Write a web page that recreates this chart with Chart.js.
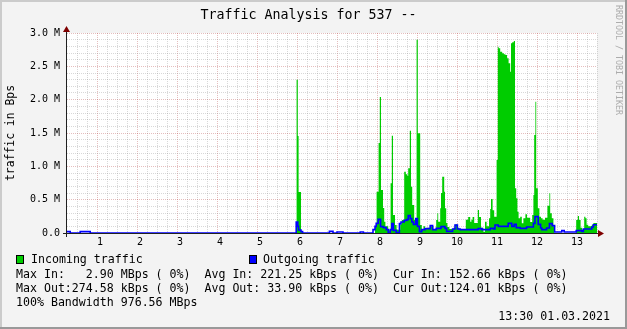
<!DOCTYPE html>
<html><head><meta charset="utf-8">
<script src="https://cdn.jsdelivr.net/npm/chart.js@4/dist/chart.umd.min.js"></script>
<style>html,body{margin:0;padding:0;background:#f3f3f3;overflow:hidden}canvas{display:block}</style>
</head><body>
<canvas id="c" width="627" height="329"></canvas>
<script>
// hours of day (step start) and traffic in MBps
const inTimes = [0.25,5.99,6.02,6.04,6.10,6.14,7.95,7.99,8.04,8.07,8.10,8.15,8.18,8.21,8.28,8.34,8.37,8.40,8.45,8.49,8.58,8.62,8.68,8.72,8.76,8.78,8.82,8.85,8.88,8.93,8.99,9.02,9.08,9.12,9.16,9.20,9.28,9.33,9.41,9.48,9.51,9.53,9.58,9.60,9.63,9.68,9.70,9.73,9.76,9.81,9.91,9.96,10.01,10.06,10.22,10.28,10.33,10.36,10.39,10.43,10.52,10.55,10.60,10.66,10.70,10.74,10.80,10.83,10.85,10.89,10.93,10.99,11.02,11.04,11.08,11.13,11.17,11.21,11.25,11.29,11.33,11.35,11.38,11.42,11.45,11.48,11.51,11.54,11.58,11.62,11.66,11.71,11.75,11.83,11.88,11.91,11.93,11.96,11.98,12.02,12.06,12.10,12.14,12.20,12.26,12.31,12.33,12.37,12.41,12.43,12.98,13.02,13.05,13.09,13.13,13.18,13.21,13.24,13.28,13.37,13.41,13.50];
const inValues = [0,2.30,1.455,0.615,0.02,0,0.10,0.62,1.35,2.04,0.645,0.375,0.17,0.10,0.04,0.745,1.46,0.27,0.12,0.05,0.13,0.195,0.92,0.88,0.855,0.97,1.535,0.695,0.42,0.20,2.90,1.495,0.12,0.06,0.10,0.07,0.08,0.10,0.05,0.195,0.295,0.17,0.37,0.60,0.845,0.62,0.37,0.15,0.09,0.06,0.08,0.13,0.08,0.06,0.20,0.24,0.17,0.20,0.24,0.15,0.345,0.24,0.08,0.02,0.17,0.10,0.22,0.36,0.51,0.34,0.245,1.095,2.795,2.77,2.72,2.695,2.68,2.67,2.62,2.545,2.42,2.845,2.86,2.88,0.67,0.52,0.32,0.22,0.245,0.145,0.22,0.28,0.23,0.165,0.27,0.57,1.47,1.97,0.67,0.37,0.245,0.22,0.20,0.23,0.41,0.595,0.295,0.22,0.10,0,0.195,0.255,0.195,0.08,0.05,0.245,0.22,0.125,0.10,0.125,0.15,0.15];
const outTimes = [0.25,0.33,0.58,0.83,5.98,6.02,6.04,6.10,6.14,6.81,6.90,7.00,7.15,7.58,7.66,7.90,7.95,7.98,8.03,8.09,8.16,8.23,8.28,8.33,8.37,8.41,8.48,8.56,8.60,8.68,8.74,8.78,8.83,8.87,8.91,8.97,9.01,9.06,9.12,9.20,9.33,9.39,9.48,9.60,9.70,9.74,9.89,9.95,10.01,10.08,10.53,10.62,10.83,10.91,10.95,11.03,11.28,11.37,11.43,11.48,11.58,11.74,11.91,11.95,12.03,12.09,12.12,12.24,12.31,12.38,12.44,12.62,12.68,12.98,13.12,13.16,13.37,13.41,13.50];
const outValues = [0.02,0,0.02,0,0.165,0.10,0.045,0.02,0,0.025,0,0.015,0,0.015,0,0.05,0.10,0.145,0.205,0.095,0.08,0.05,0,0.05,0.14,0.04,0.005,0.14,0.165,0.19,0.20,0.26,0.215,0.165,0.13,0.215,0.10,0.02,0.05,0.065,0.11,0.05,0.07,0.095,0.07,0.025,0.06,0.12,0.06,0.05,0.065,0.05,0.07,0.06,0.12,0.10,0.145,0.10,0.13,0.08,0.07,0.09,0.145,0.245,0.13,0.075,0.05,0.075,0.14,0.11,0.015,0.035,0.015,0.035,0.025,0.06,0.09,0.124,0.124];
const xTickLabels = [' 1',' 2',' 3',' 4',' 5',' 6',' 7',' 8',' 9','10','11','12','13'];
const yTickLabels = ['0.0','0.5 M','1.0 M','1.5 M','2.0 M','2.5 M','3.0 M'];
const xMin = 0.25, xMax = 13.5, yMin = 0, yMax = 3.0;

const titleText = 'Traffic Analysis for 537 --';
const yTitle = 'traffic in Bps';
const legendIn = 'Incoming traffic';
const legendOut = 'Outgoing traffic';
const statRows = [
  'Max In:   2.90 MBps ( 0%)  Avg In: 221.25 kBps ( 0%)  Cur In: 152.66 kBps ( 0%)',
  'Max Out:274.58 kBps ( 0%)  Avg Out: 33.90 kBps ( 0%)  Cur Out:124.01 kBps ( 0%)',
  '100% Bandwidth 976.56 MBps'
];
const dateText = '13:30 01.03.2021';
const watermark = 'RRDTOOL / TOBI OETIKER';

const MONO = '"DejaVu Sans Mono", monospace';
const GREEN = '#00cc00', BLUE = '#0000ff';
const MAJ = 'rgba(170,40,40,0.30)', MIN = 'rgba(140,140,140,0.34)';

function pts(t, v){ const n = Math.min(t.length, v.length); const r = []; for (let i=0;i<n;i++) r.push({x:t[i], y:v[i]}); return r; }
function isInt(v){ return Math.abs(v - Math.round(v)) < 1e-6; }

const decor = {
  id: 'decor',
  beforeDraw(chart){
    const c = chart.ctx, a = chart.chartArea;
    c.save();
    c.fillStyle = '#f3f3f3'; c.fillRect(0,0,chart.width,chart.height);
    c.fillStyle = '#ffffff'; c.fillRect(a.left, a.top, a.right-a.left, a.bottom-a.top);
    c.restore();
  },
  afterDraw(chart){
    const c = chart.ctx, a = chart.chartArea;
    c.save();
    // axes
    c.strokeStyle = '#202020'; c.lineWidth = 1;
    c.beginPath();
    c.moveTo(a.left - 4, a.bottom + 0.5); c.lineTo(a.right + 2, a.bottom + 0.5);
    c.moveTo(a.left - 0.5, a.bottom + 4); c.lineTo(a.left - 0.5, a.top - 2);
    c.stroke();
    // arrows
    c.fillStyle = '#7f0000';
    c.beginPath();
    c.moveTo(a.right + 7, a.bottom + 0.5); c.lineTo(a.right + 1, a.bottom - 3); c.lineTo(a.right + 1, a.bottom + 4); c.closePath(); c.fill();
    c.beginPath();
    c.moveTo(a.left - 0.5, a.top - 7); c.lineTo(a.left - 4, a.top - 1); c.lineTo(a.left + 3, a.top - 1); c.closePath(); c.fill();
    // title
    c.fillStyle = '#000';
    c.font = '13.3px ' + MONO; c.textAlign = 'center'; c.textBaseline = 'alphabetic';
    c.fillText(titleText, 308.5, 18.5);
    // y title
    c.save();
    c.translate(11, 133); c.rotate(-Math.PI/2);
    c.font = '11.4px ' + MONO; c.textBaseline = 'middle'; c.textAlign = 'center';
    c.fillText(yTitle, 0, 0);
    c.restore();
    // legend
    c.font = '11.6px ' + MONO; c.textAlign = 'left'; c.textBaseline = 'alphabetic';
    c.fillStyle = GREEN; c.fillRect(16, 255, 8, 9);
    c.strokeStyle = '#000'; c.strokeRect(16.5, 255.5, 7, 8);
    c.fillStyle = BLUE; c.fillRect(249, 255, 8, 9);
    c.strokeRect(249.5, 255.5, 7, 8);
    c.fillStyle = '#000';
    c.fillText(legendIn, 31, 263);
    c.fillText(legendOut, 263, 263);
    statRows.forEach((s, i) => c.fillText(s, 16, 277.5 + i*14));
    c.textAlign = 'right';
    c.fillText(dateText, 610, 319.5);
    // watermark
    c.save();
    c.translate(618, 5); c.rotate(Math.PI/2);
    c.font = '8.3px ' + MONO; c.fillStyle = '#acacac'; c.textAlign = 'left'; c.textBaseline = 'middle';
    c.fillText(watermark, 0, 0);
    c.restore();
    // frame
    const W = chart.width, H = chart.height;
    c.fillStyle = '#cbcbcb'; c.fillRect(0,0,W,2); c.fillRect(0,0,2,H);
    c.fillStyle = '#999999'; c.fillRect(0,H-2,W,2); c.fillRect(W-2,0,2,H);
    c.restore();
  }
};

new Chart(document.getElementById('c'), {
  type: 'line',
  data: { datasets: [
    { label: legendIn, data: pts(inTimes, inValues), stepped: true, fill: 'origin', backgroundColor: GREEN, borderColor: GREEN, borderWidth: 0, pointRadius: 0, order: 2 },
    { label: legendOut, data: pts(outTimes, outValues), stepped: true, fill: false, borderColor: BLUE, borderWidth: 1.6, pointRadius: 0, order: 1 }
  ]},
  options: {
    responsive: false, animation: false, devicePixelRatio: 1,
    layout: { padding: { left: 0, right: 30, top: 33, bottom: 0 } },
    plugins: { legend: { display: false }, tooltip: { enabled: false }, title: { display: false } },
    scales: {
      x: {
        type: 'linear', min: xMin, max: xMax,
        afterFit(s){ s.height = 96; },
        afterBuildTicks(s){ const t = []; for (let i = 1; i <= 53; i++) t.push({ value: xMin + i*0.25 }); s.ticks = t; },
        ticks: { autoSkip: false, maxRotation: 0, minRotation: 0, padding: 3, color: '#000', font: { family: MONO, size: 10 },
          callback(v){ return isInt(v) ? (xTickLabels[Math.round(v)-1] || '') : ''; } },
        grid: { drawTicks: false, lineWidth: 1, color(ctx){ return ctx.tick && isInt(ctx.tick.value) ? MAJ : MIN; } },
        border: { display: false, dash: [1,1] }
      },
      y: {
        type: 'linear', min: yMin, max: yMax,
        afterFit(s){ s.width = 67; },
        afterBuildTicks(s){ const t = []; for (let i = 0; i <= 30; i++) t.push({ value: i/10 }); s.ticks = t; },
        ticks: { autoSkip: false, padding: 7, color: '#000', font: { family: MONO, size: 10 },
          callback(v){ const n = Math.round(v*10); return n % 5 === 0 ? (yTickLabels[n/5] || '') : ''; } },
        grid: { drawTicks: false, lineWidth: 1, color(ctx){ if (!ctx.tick) return MIN; const n = Math.round(ctx.tick.value*10); return n % 5 === 0 ? MAJ : MIN; } },
        border: { display: false, dash: [1,1] }
      }
    }
  },
  plugins: [decor]
});
</script>
</body></html>
